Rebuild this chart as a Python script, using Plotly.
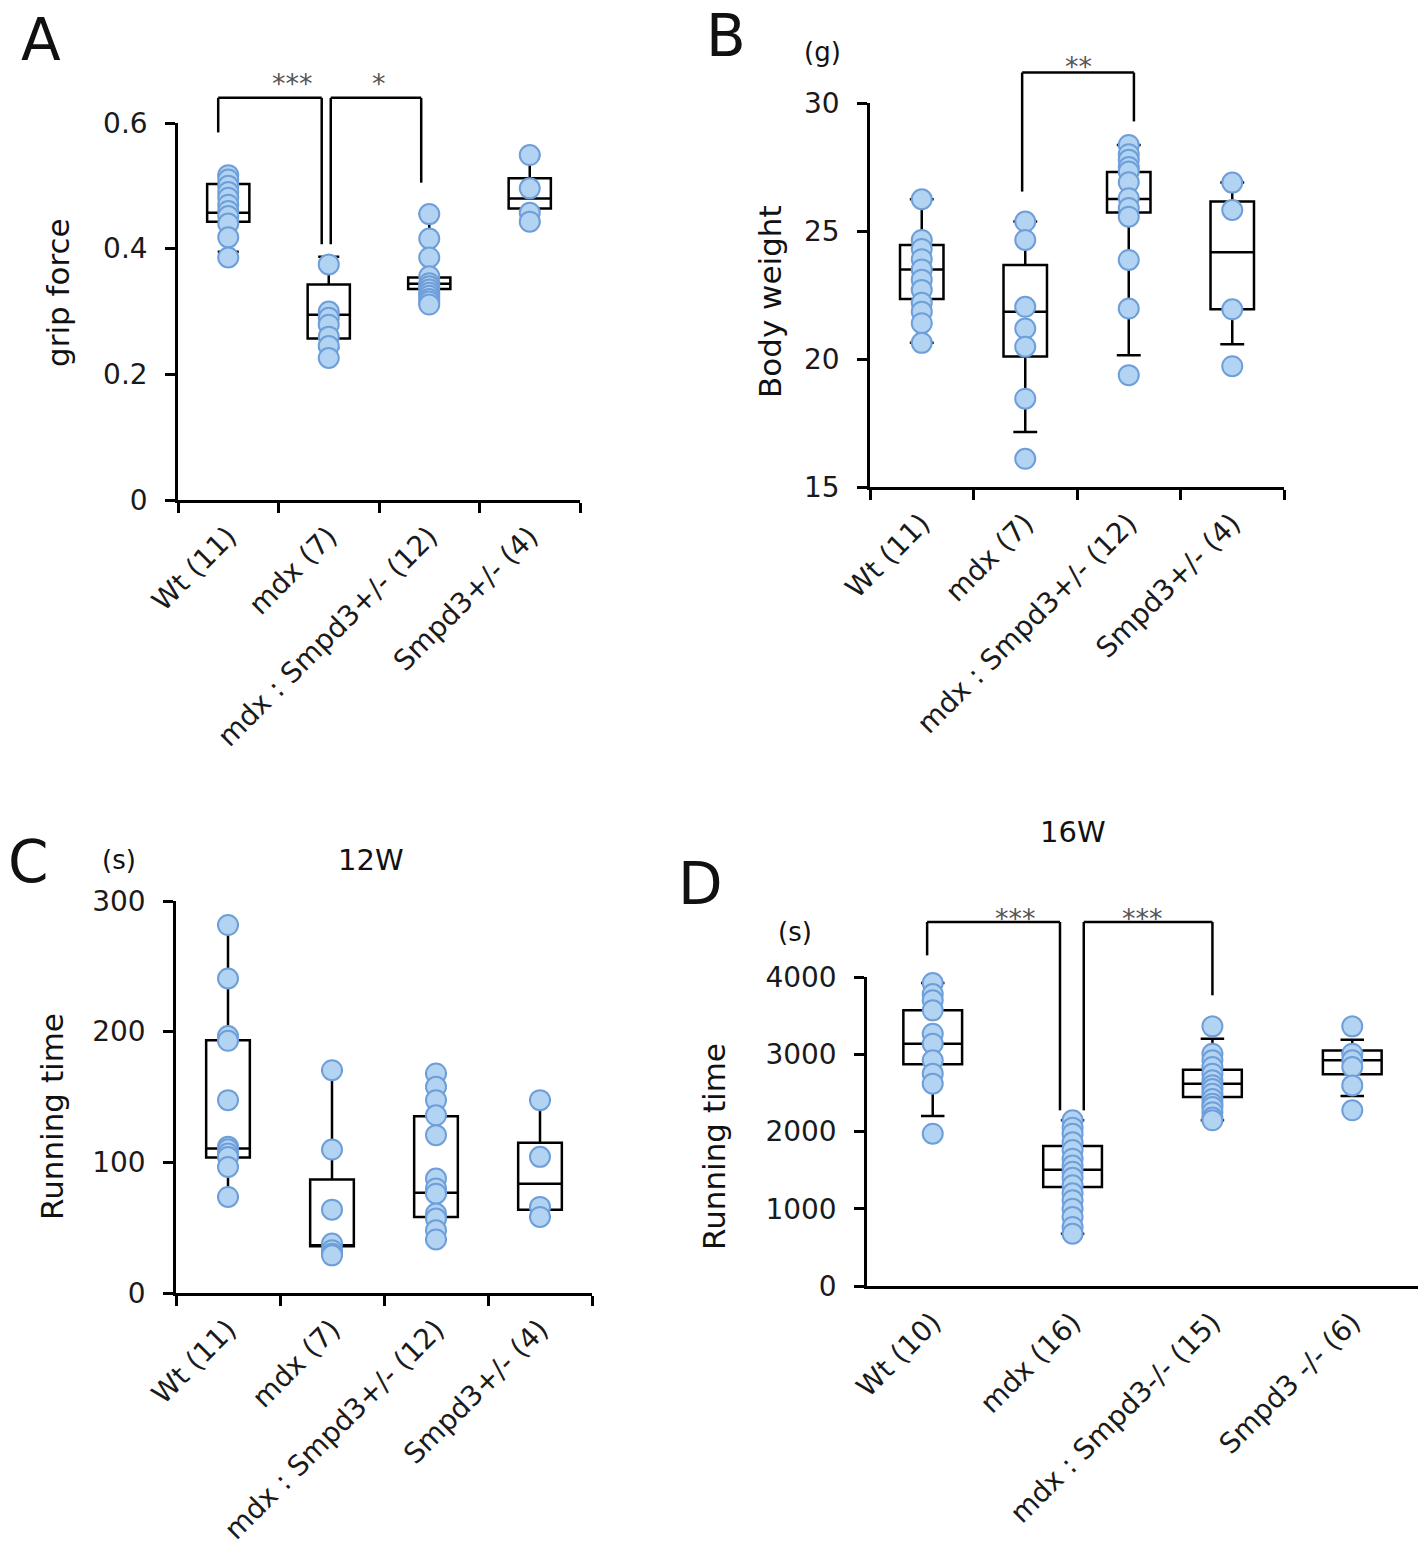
import plotly.graph_objects as go

FONT = "DejaVu Sans"
PT_FILL = "#b3d3f3"
PT_LINE = "#6e9fd9"

# ---- A : grip force ----
a_groups = ["Wt (11)", "mdx (7)", "mdx : Smpd3+/- (12)", "Smpd3+/- (4)"]
a_points = [
    [0.517, 0.51, 0.50, 0.49, 0.481, 0.47, 0.46, 0.452, 0.44, 0.418, 0.386],
    [0.375, 0.30, 0.29, 0.279, 0.26, 0.245, 0.226],
    [0.455, 0.416, 0.386, 0.356, 0.345, 0.34, 0.335, 0.33, 0.325, 0.32, 0.316, 0.311],
    [0.549, 0.496, 0.457, 0.443],
]
a_q1 = [0.443, 0.257, 0.336, 0.464]
a_med = [0.457, 0.295, 0.344, 0.480]
a_q3 = [0.503, 0.343, 0.354, 0.512]
a_lo = [0.395, 0.242, 0.311, 0.443]
a_hi = [0.517, 0.387, 0.455, 0.549]

# ---- B : body weight ----
b_groups = ["Wt (11)", "mdx (7)", "mdx : Smpd3+/- (12)", "Smpd3+/- (4)"]
b_points = [
    [26.24, 24.65, 24.3, 23.9, 23.5, 23.1, 22.7, 22.2, 21.85, 21.4, 20.63],
    [25.37, 24.65, 22.04, 21.19, 20.48, 18.45, 16.1],
    [28.36, 28.0, 27.78, 27.5, 27.32, 26.9, 26.28, 25.9, 25.56, 23.87, 21.97, 19.37],
    [26.89, 25.82, 21.94, 19.72],
]
b_q1 = [22.34, 20.1, 25.72, 21.94]
b_med = [23.5, 21.85, 26.25, 24.17]
b_q3 = [24.45, 23.67, 27.3, 26.15]
b_lo = [20.63, 17.15, 20.15, 20.58]
b_hi = [26.24, 25.37, 28.36, 26.89]

# ---- C : running time 12W ----
c_groups = ["Wt (11)", "mdx (7)", "mdx : Smpd3+/- (12)", "Smpd3+/- (4)"]
c_points = [
    [281.6, 240.7, 196.6, 193, 147.6, 112, 110, 106.7, 104, 96.5, 73.5],
    [170.5, 109.8, 63.8, 37.8, 32.7, 30.1, 28.8],
    [168, 157.8, 147.6, 136, 120.8, 87.6, 80, 76, 60.8, 57, 48, 41],
    [147.6, 104.2, 65.9, 58.2],
]
c_q1 = [103.7, 35.7, 58.2, 63.8]
c_med = [110.5, 36.5, 76.8, 83.7]
c_q3 = [193.5, 86.8, 135.3, 114.9]
c_lo = [73.5, 28.8, 41, 58.2]
c_hi = [281.6, 170.5, 168, 147.6]

# ---- D : running time 16W ----
d_groups = ["Wt (10)", "mdx (16)", "mdx : Smpd3-/- (15)", "Smpd3 -/- (6)"]
d_points = [
    [3922, 3780, 3698, 3568, 3266, 3137, 2921, 2749, 2619, 1972],
    [2145, 2050, 1972, 1860, 1760, 1648, 1560, 1480, 1400, 1303, 1200, 1109, 1000, 893, 764, 677],
    [3361, 3007, 2921, 2835, 2749, 2662, 2600, 2550, 2489, 2420, 2360, 2317, 2250, 2180, 2145],
    [3361, 3007, 2921, 2835, 2597, 2274],
]
d_q1 = [2869, 1282, 2446, 2740]
d_med = [3137, 1506, 2619, 2921]
d_q3 = [3568, 1812, 2800, 3050]
d_lo = [2200, 677, 2145, 2459]
d_hi = [3922, 2145, 3201, 3188]

# significance brackets: (x left, x right, y top, y left end, y right end, label, label x, label y)
a_sig = [(-0.10, 0.93, 0.640, 0.585, 0.407, "***", 0.42, 0.69),
         (1.02, 1.92, 0.640, 0.407, 0.505, "*", 1.50, 0.69)]
b_sig = [(0.97, 2.05, 31.19, 26.54, 29.28, "**", 1.51, 32.1)]
d_sig = [(-0.04, 0.91, 4712, 4280, 2274, "***", 0.43, 4990),
         (1.08, 2.00, 4712, 2274, 3763, "***", 1.50, 4990)]

W, H = 1418, 1549

panels = [
    dict(g=a_groups, p=a_points, s=(a_q1, a_med, a_q3, a_lo, a_hi), yr=[0, 0.6],
         tv=[0, 0.2, 0.4, 0.6], tt=["0", "0.2", "0.4", "0.6"], xs=(178, 580), ys=(123, 500),
         xr=[-0.5, 3.5], xt=True, ww=0.5, sig=a_sig),
    dict(g=b_groups, p=b_points, s=(b_q1, b_med, b_q3, b_lo, b_hi), yr=[15, 30],
         tv=[15, 20, 25, 30], tt=["15", "20", "25", "30"], xs=(870, 1284), ys=(103, 487),
         xr=[-0.5, 3.5], xt=True, ww=0.55, sig=b_sig),
    dict(g=c_groups, p=c_points, s=(c_q1, c_med, c_q3, c_lo, c_hi), yr=[0, 300],
         tv=[0, 100, 200, 300], tt=["0", "100", "200", "300"], xs=(176, 592), ys=(901, 1293),
         xr=[-0.5, 3.5], xt=True, ww=0.5, sig=[]),
    dict(g=d_groups, p=d_points, s=(d_q1, d_med, d_q3, d_lo, d_hi), yr=[0, 4000],
         tv=[0, 1000, 2000, 3000, 4000], tt=["0", "1000", "2000", "3000", "4000"],
         xs=(867, 1418), ys=(977, 1286), xr=[-0.47, 3.47], xt=False, ww=0.4, sig=d_sig),
]

fig = go.Figure()
layout = dict(width=W, height=H, margin=dict(l=0, r=0, t=0, b=0, autoexpand=False),
              paper_bgcolor="white", plot_bgcolor="white", showlegend=False,
              font=dict(family=FONT, color="#1a1a1a"))
shapes = []
annotations = []

for i, pn in enumerate(panels):
    n = "" if i == 0 else str(i + 1)
    xa, ya = "x" + n, "y" + n
    q1, med, q3, lo, hi = pn["s"]
    for k, g in enumerate(pn["g"]):
        fig.add_trace(go.Box(
            x=[g], q1=[q1[k]], median=[med[k]], q3=[q3[k]], lowerfence=[lo[k]], upperfence=[hi[k]],
            width=0.42, whiskerwidth=pn["ww"], fillcolor="white",
            line=dict(color="black", width=2.5), boxpoints=False, hoverinfo="skip",
            xaxis=xa, yaxis=ya))
    for k, g in enumerate(pn["g"]):
        fig.add_trace(go.Scatter(
            x=[g] * len(pn["p"][k]), y=pn["p"][k], mode="markers", cliponaxis=False,
            marker=dict(size=20, color=PT_FILL, line=dict(color=PT_LINE, width=2)),
            xaxis=xa, yaxis=ya))

    x0, x1 = pn["xs"]
    y0, y1 = pn["ys"]
    layout["xaxis" + n] = dict(
        domain=[x0 / W, x1 / W], anchor=ya, type="category", categoryorder="array",
        categoryarray=pn["g"], range=pn["xr"], showgrid=False, zeroline=False,
        showline=True, linecolor="black", linewidth=2.5, automargin=False,
        ticks="outside" if pn["xt"] else "", ticklen=10, tickwidth=2.5, tickcolor="black",
        tickson="boundaries", tickangle=-45, ticklabelstandoff=6,
        tickfont=dict(size=28, family=FONT, color="#1a1a1a"), fixedrange=True)
    layout["yaxis" + n] = dict(
        domain=[1 - y1 / H, 1 - y0 / H], anchor=xa, range=pn["yr"], showgrid=False,
        zeroline=False, showline=True, linecolor="black", linewidth=2.5, ticks="outside",
        ticklen=10, tickwidth=2.5, tickcolor="black", tickvals=pn["tv"], ticktext=pn["tt"],
        ticklabelstandoff=12, automargin=False,
        tickfont=dict(size=28, family=FONT, color="#1a1a1a"), fixedrange=True)

    xr, yr = pn["xr"], pn["yr"]

    def fx(v):
        return (v - xr[0]) / (xr[1] - xr[0])

    def fy(v):
        return (v - yr[0]) / (yr[1] - yr[0])

    for (xl, xrt, yt, yl, yrb, lab, lx, ly) in pn["sig"]:
        for (ax0, ay0, ax1, ay1) in [(xl, yl, xl, yt), (xl, yt, xrt, yt), (xrt, yt, xrt, yrb)]:
            shapes.append(dict(type="line", xref=xa + " domain", yref=ya + " domain",
                               x0=fx(ax0), y0=fy(ay0), x1=fx(ax1), y1=fy(ay1),
                               line=dict(color="black", width=2.5)))
        annotations.append(dict(text=lab, xref=xa + " domain", yref=ya + " domain",
                                x=fx(lx), y=fy(ly), showarrow=False,
                                font=dict(size=27, color="#555")))

# panel letters, axis titles, units, headers (pixel centres)
texts = [
    ("A", 41, 40, 58, 0), ("B", 726, 36, 58, 0), ("C", 28, 862, 58, 0), ("D", 700, 884, 58, 0),
    ("grip force", 58, 293, 31, -90), ("Body weight", 770, 302, 31, -90),
    ("Running time", 52, 1117, 31, -90), ("Running time", 714, 1147, 31, -90),
    ("(g)", 822, 52, 26, 0), ("(s)", 119, 860, 26, 0), ("(s)", 795, 932, 26, 0),
    ("12W", 371, 860, 29, 0), ("16W", 1073, 832, 29, 0),
]
for t, px, py, sz, ang in texts:
    annotations.append(dict(text=t, xref="paper", yref="paper", x=px / W, y=1 - py / H,
                            xanchor="center", yanchor="middle", showarrow=False, textangle=ang,
                            font=dict(size=sz, family=FONT, color="#111")))

layout["shapes"] = shapes
layout["annotations"] = annotations
fig.update_layout(**layout)
fig.write_html("out.html", config={"displayModeBar": False},
               post_script="document.body.style.margin='0px';")
